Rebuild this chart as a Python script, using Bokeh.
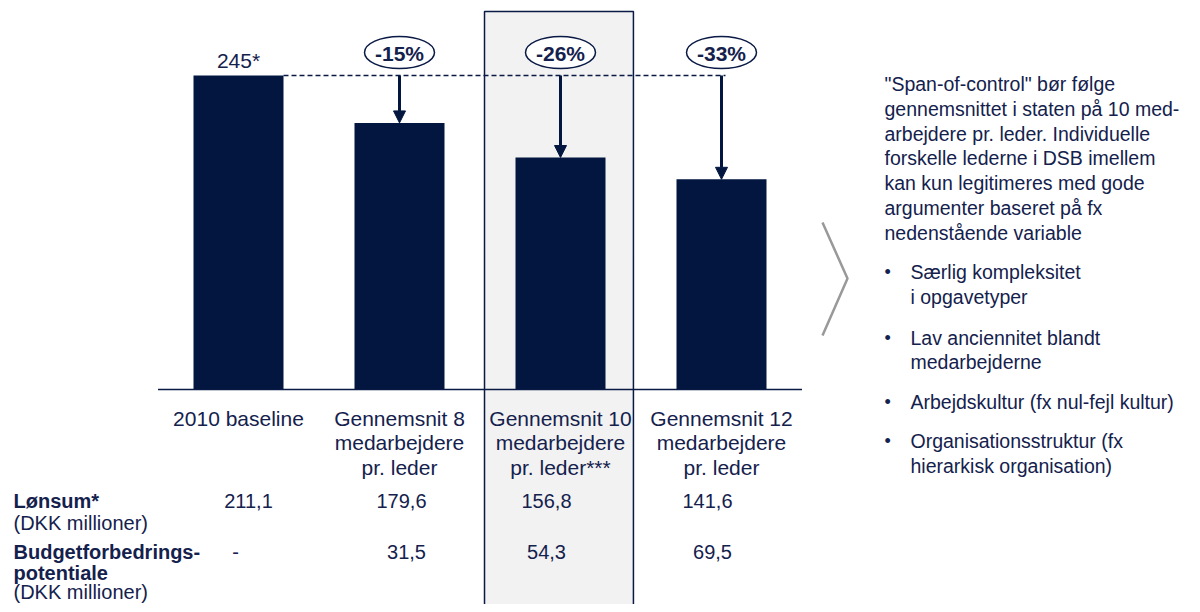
from bokeh.plotting import figure
from bokeh.models import Range1d, Arrow, NormalHead
from bokeh.embed import file_html
from bokeh.resources import INLINE
from bokeh.core.properties import value

# ---------------- data ----------------
categories = [
    "2010 baseline",
    "Gennemsnit 8\nmedarbejdere\npr. leder",
    "Gennemsnit 10\nmedarbejdere\npr. leder***",
    "Gennemsnit 12\nmedarbejdere\npr. leder",
]
bar_values = [245, 208, 181, 164]
pct_labels = ["-15%", "-26%", "-33%"]
lonsum = ["211,1", "179,6", "156,8", "141,6"]
potentiale = ["-", "31,5", "54,3", "69,5"]
row_label_lines = ["Lønsum*", "(DKK millioner)", "Budgetforbedrings-", "potentiale", "(DKK millioner)"]
row_label_bold = [True, False, True, True, False]
note_lines = [
    "\"Span-of-control\" bør følge",
    "gennemsnittet i staten på 10 med-",
    "arbejdere pr. leder. Individuelle",
    "forskelle lederne i DSB imellem",
    "kan kun legitimeres med gode",
    "argumenter baseret på fx",
    "nedenstående variable",
]
bullet_items = [
    ["Særlig kompleksitet", "i opgavetyper"],
    ["Lav anciennitet blandt", "medarbejderne"],
    ["Arbejdskultur (fx nul-fejl kultur)"],
    ["Organisationsstruktur (fx", "hierarkisk organisation)"],
]
highlight_index = 2

# ---------------- layout helpers ----------------
W, H = 1184, 604
STEP = 161.0          # px per category
X0 = 238.0            # px of category 0 centre
BASE = 389.0          # px (from top) of the zero line
K = 314.0 / 245.0     # px per value unit

def sx(X):
    return (X - X0) / STEP

def sy(Y):
    return (BASE - Y) / K

NAVY = "#02163f"
TEXT = "#14214d"
FONT = value("Liberation Sans")

p = figure(width=W, height=H,
           x_range=Range1d(sx(0), sx(W)),
           y_range=Range1d(sy(H), sy(0)),
           x_axis_type=None, y_axis_type=None,
           output_backend="svg", toolbar_location=None, min_border=0)
p.grid.visible = False
p.outline_line_color = None
p.background_fill_color = "white"
p.border_fill_color = "white"

idx = list(range(len(categories)))

# highlight box
p.quad(left=highlight_index - 0.472, right=highlight_index + 0.453,
       bottom=sy(640), top=sy(11),
       fill_color="#f2f2f2", line_color="#0a1a45", line_width=1.5)

# bars
p.vbar(x=idx, top=bar_values, width=90 / STEP, bottom=0,
       fill_color=NAVY, line_color=None)

# baseline
p.segment(x0=[-0.5], y0=[0], x1=[len(categories) - 0.5], y1=[0],
          line_color="#0a1a45", line_width=1.5)

# dashed reference line
p.segment(x0=[0 + 45 / STEP], y0=[bar_values[0]], x1=[3 + 4 / STEP], y1=[bar_values[0]],
          line_color="#0a1a45", line_width=1.5, line_dash="5 3")

# arrows
for i in range(1, len(bar_values)):
    p.add_layout(Arrow(x_start=i, y_start=bar_values[0], x_end=i, y_end=bar_values[i],
                       line_color=NAVY, line_width=3,
                       end=NormalHead(size=12, fill_color=NAVY, line_color=NAVY, line_width=1)))

# percentage ellipses
pct_x = idx[1:]
p.ellipse(x=pct_x, y=[sy(52)] * 3, width=70, height=32,
          width_units="screen", height_units="screen",
          fill_color="white", line_color="#0a1a45", line_width=1.5)
p.text(x=pct_x, y=[sy(53)] * 3, text=pct_labels, text_font=FONT, text_font_style="bold",
       text_font_size="21px", text_align="center", text_baseline="middle", text_color=TEXT)

# value label on first bar
p.text(x=[0], y=[sy(60)], text=[f"{bar_values[0]}*"], text_font=FONT,
       text_font_size="21px", text_align="center", text_baseline="middle", text_color=TEXT)

# category labels
p.text(x=idx, y=[sy(406)] * 4, text=categories, text_font=FONT, text_font_size="21px",
       text_align="center", text_baseline="top", text_color=TEXT, text_line_height=1.08)

# table rows
p.text(x=idx, y=[sy(500)] * 4, text=lonsum, x_offset=[10, 2, -14, -14], text_font=FONT,
       text_font_size="20px", text_align="center", text_baseline="middle", text_color=TEXT)
p.text(x=idx, y=[sy(551)] * 4, text=potentiale, x_offset=[-3, 7, -14, -9], text_font=FONT,
       text_font_size="20px", text_align="center", text_baseline="middle", text_color=TEXT)

row_y = [500, 522, 551, 572, 591]
for txt, bold, Y in zip(row_label_lines, row_label_bold, row_y):
    p.text(x=[sx(13)], y=[sy(Y)], text=[txt], text_font=FONT, text_font_size="20px",
           text_font_style="bold" if bold else "normal",
           text_align="left", text_baseline="middle", text_color=TEXT)

# right-hand note
note_y = [83, 108, 133, 157, 182, 207, 232]
p.text(x=[sx(884)] * len(note_lines), y=[sy(Y) for Y in note_y], text=note_lines,
       text_font=FONT, text_font_size="19.5px", text_align="left", text_baseline="middle",
       text_color=TEXT)

bullet_y = [[271, 296], [337, 361], [401], [440, 465]]
for item, ys in zip(bullet_items, bullet_y):
    p.text(x=[sx(884)], y=[sy(ys[0])], text=["•"], text_font=FONT, text_font_size="18px",
           text_align="left", text_baseline="middle", text_color=TEXT)
    p.text(x=[sx(910)] * len(item), y=[sy(Y) for Y in ys], text=item, text_font=FONT,
           text_font_size="19.5px", text_align="left", text_baseline="middle", text_color=TEXT)

# chevron
p.line(x=[sx(822), sx(847), sx(822)], y=[sy(222), sy(278), sy(335)],
       line_color="#999999", line_width=2.5)

open("out.html", "w").write(file_html(p, INLINE))
